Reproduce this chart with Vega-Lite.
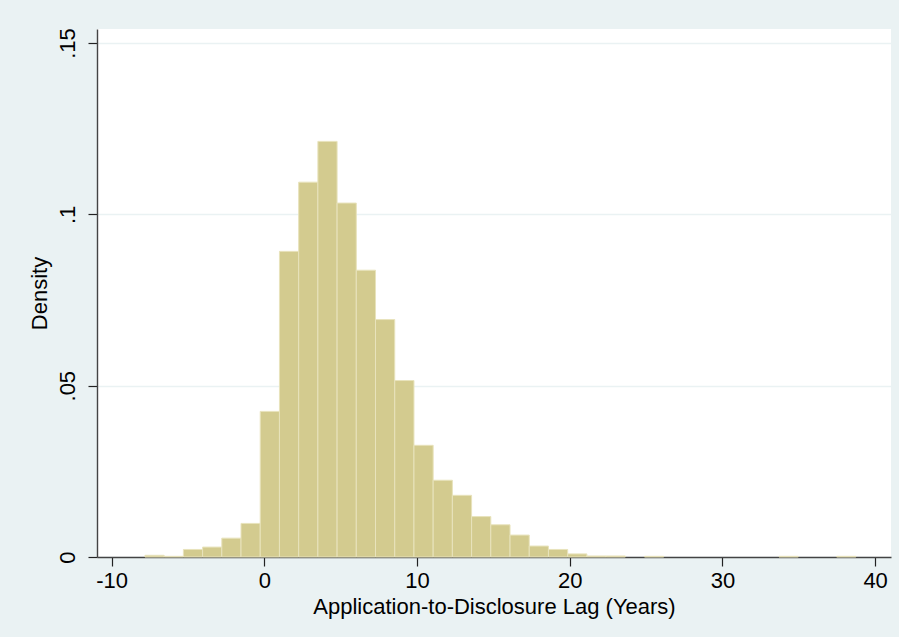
{
  "$schema": "https://vega.github.io/schema/vega-lite/v6.json",
  "width": 794,
  "height": 528,
  "autosize": {"type": "none"},
  "padding": {"left": 97, "top": 29, "right": 8, "bottom": 80},
  "background": "#EAF2F3",
  "data": {
    "values": [
      {"bin_start": -7.820, "bin_end": -6.562, "density": 0.0005},
      {"bin_start": -6.562, "bin_end": -5.303, "density": 0.0002},
      {"bin_start": -5.303, "bin_end": -4.045, "density": 0.0022},
      {"bin_start": -4.045, "bin_end": -2.786, "density": 0.0029},
      {"bin_start": -2.786, "bin_end": -1.528, "density": 0.0055},
      {"bin_start": -1.528, "bin_end": -0.270, "density": 0.0098},
      {"bin_start": -0.270, "bin_end": 0.989, "density": 0.0425},
      {"bin_start": 0.989, "bin_end": 2.247, "density": 0.0892},
      {"bin_start": 2.247, "bin_end": 3.506, "density": 0.1094},
      {"bin_start": 3.506, "bin_end": 4.764, "density": 0.1213},
      {"bin_start": 4.764, "bin_end": 6.022, "density": 0.1033},
      {"bin_start": 6.022, "bin_end": 7.281, "density": 0.0837},
      {"bin_start": 7.281, "bin_end": 8.539, "density": 0.0693},
      {"bin_start": 8.539, "bin_end": 9.798, "density": 0.0515},
      {"bin_start": 9.798, "bin_end": 11.056, "density": 0.0326},
      {"bin_start": 11.056, "bin_end": 12.314, "density": 0.0224},
      {"bin_start": 12.314, "bin_end": 13.573, "density": 0.0180},
      {"bin_start": 13.573, "bin_end": 14.831, "density": 0.0118},
      {"bin_start": 14.831, "bin_end": 16.090, "density": 0.0094},
      {"bin_start": 16.090, "bin_end": 17.348, "density": 0.0064},
      {"bin_start": 17.348, "bin_end": 18.606, "density": 0.0032},
      {"bin_start": 18.606, "bin_end": 19.865, "density": 0.0022},
      {"bin_start": 19.865, "bin_end": 21.123, "density": 0.0009},
      {"bin_start": 21.123, "bin_end": 22.382, "density": 0.0003},
      {"bin_start": 22.382, "bin_end": 23.640, "density": 0.0003},
      {"bin_start": 24.898, "bin_end": 26.157, "density": 0.0002},
      {"bin_start": 33.707, "bin_end": 34.966, "density": 0.0002},
      {"bin_start": 37.482, "bin_end": 38.741, "density": 0.0002}
    ]
  },
  "mark": {"type": "rect", "fill": "#D3CB8F", "stroke": "#E8E3BC", "strokeWidth": 1},
  "encoding": {
    "x": {
      "field": "bin_start",
      "type": "quantitative",
      "scale": {"domain": [-10.96, 41.04], "nice": false, "zero": false},
      "axis": {
        "values": [-10, 0, 10, 20, 30, 40],
        "labelExpr": "'' + datum.value",
        "title": "Application-to-Disclosure Lag (Years)",
        "grid": false,
        "labelPadding": 4,
        "titlePadding": 5
      }
    },
    "x2": {"field": "bin_end"},
    "y": {
      "field": "density",
      "type": "quantitative",
      "scale": {"domain": [0, 0.1541], "nice": false},
      "axis": {
        "values": [0, 0.05, 0.1, 0.15],
        "labelExpr": "datum.value == 0 ? '0' : replace(format(datum.value, '.2~f'), '0.', '.')",
        "title": "Density",
        "grid": true,
        "gridColor": "#EAF2F3",
        "gridWidth": 1.5,
        "labelAngle": 270,
        "labelAlign": "center",
        "labelBaseline": "bottom",
        "labelPadding": 9,
        "titlePadding": 5
      }
    },
    "y2": {"datum": 0}
  },
  "config": {
    "view": {"stroke": null, "fill": "white"},
    "font": "Liberation Sans, Arial, Helvetica, sans-serif",
    "axis": {
      "domainColor": "#444444",
      "domainWidth": 1.4,
      "tickColor": "#222222",
      "tickSize": 9,
      "tickWidth": 1.2,
      "labelFont": "Liberation Sans, Arial, Helvetica, sans-serif",
      "titleFont": "Liberation Sans, Arial, Helvetica, sans-serif",
      "labelFontSize": 22,
      "titleFontSize": 22,
      "titleFontWeight": "normal",
      "labelColor": "#000000",
      "titleColor": "#000000"
    }
  }
}
